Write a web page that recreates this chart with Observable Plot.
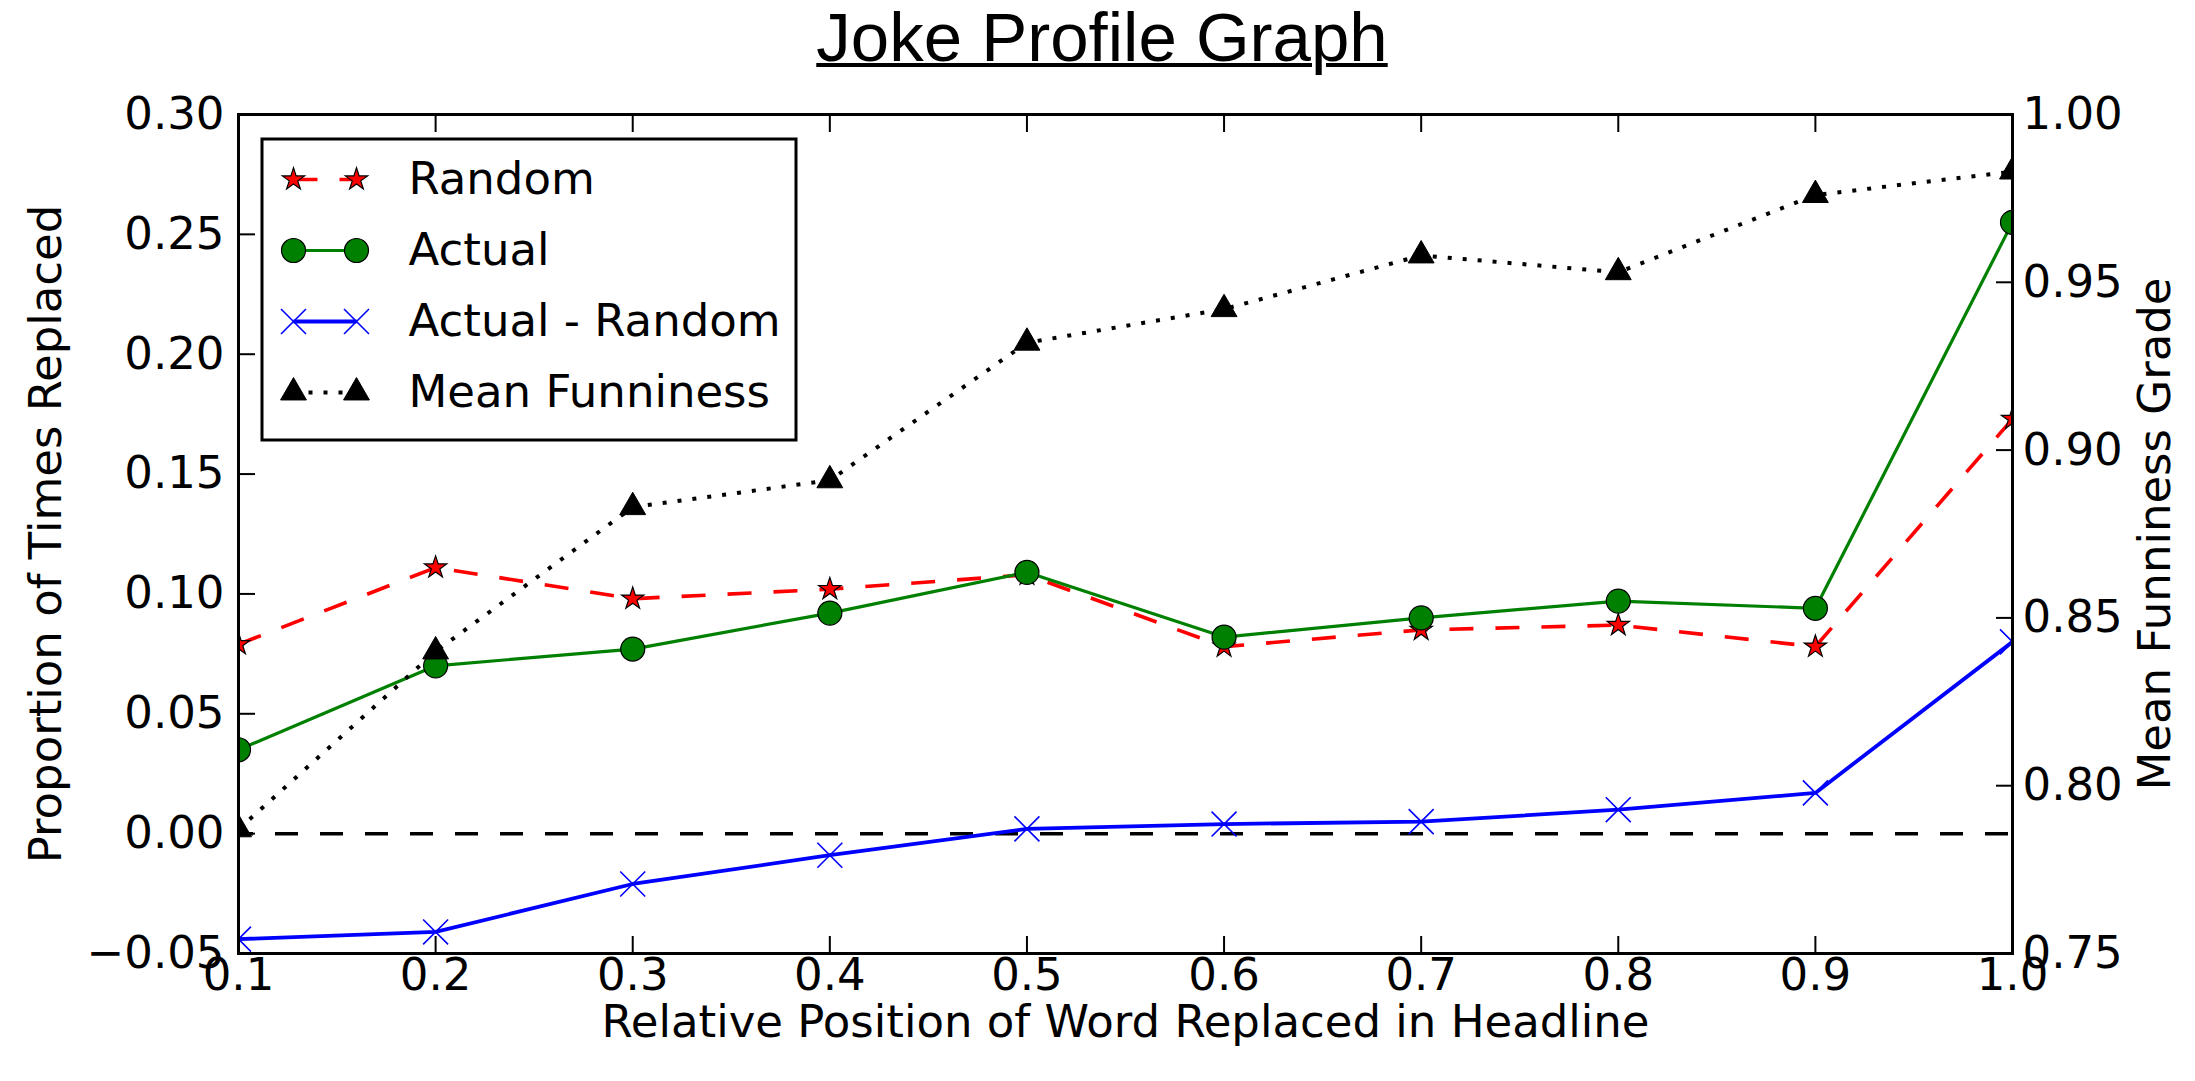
<!DOCTYPE html>
<html>
<head>
<meta charset="utf-8">
<script src="https://cdn.jsdelivr.net/npm/d3@7"></script>
<script src="https://cdn.jsdelivr.net/npm/@observablehq/plot@0.6"></script>
<style>
  html, body { margin: 0; padding: 0; background: #ffffff; }
  #page { position: relative; width: 2195px; height: 1081px; overflow: hidden; background: #fff; }
  #title {
    height: 80px; line-height: 76px; text-align: center; padding-left: 9px; box-sizing: border-box;
    font-family: "Liberation Sans", Arial, Helvetica, sans-serif; font-size: 69px; color: #000;
    text-decoration: underline; text-decoration-thickness: 4px;
  }
  #chart svg, #legend svg { display: block; overflow: visible; }
  #legend { position: absolute; left: 260px; top: 137px; }
</style>
</head>
<body>
<div id="page">
  <div id="title"></div>
  <div id="chart"></div>
  <div id="legend"></div>
</div>
<script>
// ---- text ----
const titleText = "Joke Profile Graph";
const xLabel = "Relative Position of Word Replaced in Headline";
const yLabelLeft = "Proportion of Times Replaced";
const yLabelRight = "Mean Funniness Grade";
const seriesNames = ["Random", "Actual", "Actual - Random", "Mean Funniness"];

// ---- data ----
const positions = [0.1, 0.2, 0.3, 0.4, 0.5, 0.6, 0.7, 0.8, 0.9, 1.0];
const randomValues = [0.079, 0.111, 0.098, 0.102, 0.108, 0.078, 0.085, 0.087, 0.078, 0.173];
const actualValues = [0.035, 0.070, 0.077, 0.092, 0.109, 0.082, 0.090, 0.097, 0.094, 0.255];
const diffValues = [-0.044, -0.041, -0.021, -0.009, 0.002, 0.004, 0.005, 0.010, 0.017, 0.080];
const funninessValues = [0.787, 0.840, 0.883, 0.891, 0.932, 0.942, 0.958, 0.953, 0.976, 0.983];

// ---- ticks ----
const xTicks = [0.1, 0.2, 0.3, 0.4, 0.5, 0.6, 0.7, 0.8, 0.9, 1.0];
const leftTicks = [-0.05, 0.00, 0.05, 0.10, 0.15, 0.20, 0.25, 0.30];
const rightTicks = [0.75, 0.80, 0.85, 0.90, 0.95, 1.00];
const zeroLine = [0];

// ---- scales / mapping of the secondary axis ----
const leftDomain = [-0.05, 0.30];
const rightDomain = [0.75, 1.00];
const k = (leftDomain[1] - leftDomain[0]) / (rightDomain[1] - rightDomain[0]);
const toLeft = v => leftDomain[0] + (v - rightDomain[0]) * k;
const fromLeft = v => rightDomain[0] + (v - leftDomain[0]) / k;

const rows = positions.map((p, i) => ({
  pos: p,
  random: randomValues[i],
  actual: actualValues[i],
  diff: diffValues[i],
  mf: toLeft(funninessValues[i])
}));

// ---- styles ----
const FONT = '"DejaVu Sans", "Liberation Sans", sans-serif';
const FS = 45;
const style = {
  "Random": {
    key: "random",
    line: {stroke: "#ff0000", strokeWidth: 3.6, strokeDasharray: "24,22", strokeLinecap: "butt"},
    dot: {symbol: "star", r: 7, fill: "#ff0000", stroke: "#000", strokeWidth: 1.2}
  },
  "Actual": {
    key: "actual",
    line: {stroke: "#008000", strokeWidth: 3.2, strokeLinecap: "butt"},
    dot: {symbol: "circle", r: 12, fill: "#008000", stroke: "#000", strokeWidth: 1.2}
  },
  "Actual - Random": {
    key: "diff",
    line: {stroke: "#0000ff", strokeWidth: 3.8, strokeLinecap: "butt"},
    dot: {symbol: "times", r: 11.4, stroke: "#0000ff", strokeWidth: 1.6}
  },
  "Mean Funniness": {
    key: "mf",
    line: {stroke: "#000", strokeWidth: 4, strokeDasharray: "4,11", strokeLinecap: "butt"},
    dot: {symbol: "triangle", r: 9.6, fill: "#000", stroke: "#000", strokeWidth: 1}
  }
};

document.getElementById("title").textContent = titleText;

const f1 = d3.format(".1f");
const f2 = d3.format(".2f");

const seriesMarks = seriesNames.flatMap(name => {
  const s = style[name];
  return [
    Plot.line(rows, {x: "pos", y: s.key, ...s.line, clip: true}),
    Plot.dot(rows, {x: "pos", y: s.key, ...s.dot, clip: true})
  ];
});

const labelText = {text: d => d, fontSize: FS, fill: "#000", textAnchor: "middle", lineAnchor: "middle"};

const chart = Plot.plot({
  width: 2195,
  height: 1001,
  marginTop: 34,
  marginRight: 183,
  marginBottom: 128,
  marginLeft: 238,
  style: {fontFamily: FONT, fontSize: FS + "px", color: "#000", background: "transparent"},
  x: {domain: [0.1, 1.0]},
  y: {domain: leftDomain},
  marks: [
    Plot.ruleY(zeroLine, {stroke: "#000", strokeWidth: 3.5, strokeDasharray: "23,22", strokeDashoffset: 8}),
    ...seriesMarks,
    Plot.frame({stroke: "#000", strokeWidth: 3}),
    // inward ticks
    Plot.axisX(xTicks, {anchor: "bottom", tickSize: -17, fill: "none", strokeWidth: 2, label: null}),
    Plot.axisX(xTicks, {anchor: "top", tickSize: -17, fill: "none", strokeWidth: 2, label: null}),
    Plot.axisY(leftTicks, {anchor: "left", tickSize: -17, fill: "none", strokeWidth: 2, label: null}),
    Plot.axisY(rightTicks.map(toLeft), {anchor: "right", tickSize: -17, fill: "none", strokeWidth: 2, label: null}),
    // tick labels
    Plot.axisX(xTicks, {anchor: "bottom", tickSize: 0, tickPadding: 5, tickFormat: f1, label: null, fontSize: FS}),
    Plot.axisY(leftTicks, {anchor: "left", tickSize: 0, tickPadding: 14, tickFormat: f2, label: null, fontSize: FS}),
    Plot.axisY(rightTicks.map(toLeft), {anchor: "right", tickSize: 0, tickPadding: 10,
      tickFormat: d => f2(fromLeft(d)), label: null, fontSize: FS}),
    // axis titles
    Plot.text([xLabel], {frameAnchor: "bottom", dy: 69, ...labelText}),
    Plot.text([yLabelLeft], {frameAnchor: "left", dx: -192, rotate: -90, ...labelText}),
    Plot.text([yLabelRight], {frameAnchor: "right", dx: 143, rotate: -90, ...labelText})
  ]
});
document.getElementById("chart").appendChild(chart);

// ---- legend ----
const handleEnds = [0, 1];
const legendMarks = seriesNames.flatMap(name => {
  const s = style[name];
  const pts = handleEnds.map(e => ({e, name}));
  return [
    Plot.line(pts, {x: "e", y: "name", ...s.line}),
    Plot.dot(pts, {x: "e", y: "name", ...s.dot}),
    Plot.text([name], {x: () => 1, y: d => d, dx: 52, text: d => d, textAnchor: "start", lineAnchor: "middle", fontSize: FS, fill: "#000"})
  ];
});

const legend = Plot.plot({
  width: 537,
  height: 304,
  margin: 0,
  style: {fontFamily: FONT, fontSize: FS + "px", color: "#000", background: "transparent"},
  x: {domain: [0, 1], range: [33, 96], axis: null},
  y: {type: "point", domain: seriesNames, range: [41, 256], padding: 0, axis: null},
  marks: [
    Plot.frame({fill: "#fff", stroke: "#000", strokeWidth: 3, inset: 1.5}),
    ...legendMarks
  ]
});
document.getElementById("legend").appendChild(legend);
</script>
</body>
</html>
